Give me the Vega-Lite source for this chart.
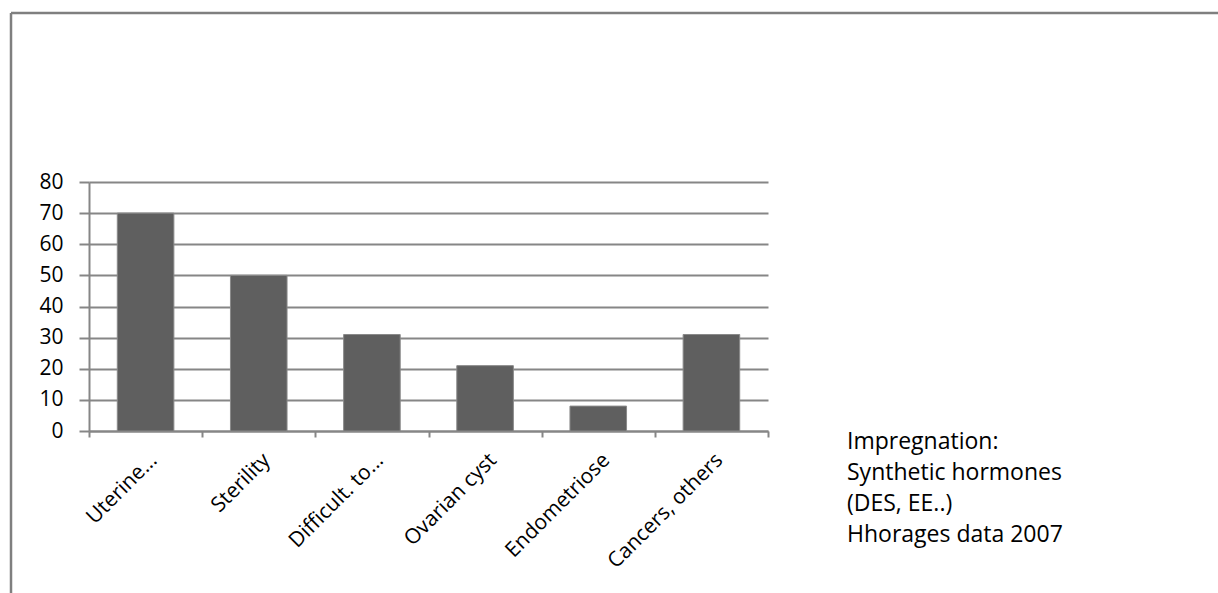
{
  "$schema": "https://vega.github.io/schema/vega-lite/v6.json",
  "width": 679,
  "height": 249,
  "autosize": "none",
  "padding": {"left": 89, "top": 182, "right": 450, "bottom": 162},
  "background": "white",
  "config": {"view": {"stroke": null}, "font": "Open Sans"},
  "datasets": {
    "bars": [
      {"cause": "Uterine...", "value": 70},
      {"cause": "Sterility", "value": 50},
      {"cause": "Difficult. to...", "value": 31},
      {"cause": "Ovarian cyst", "value": 21},
      {"cause": "Endometriose", "value": 8},
      {"cause": "Cancers, others", "value": 31}
    ],
    "note": [
      {"note": ["Impregnation:", "Synthetic hormones", "(DES, EE..)", "Hhorages data 2007"]}
    ],
    "frame": [{"f": 1}]
  },
  "layer": [
    {
      "data": {"name": "bars"},
      "mark": {"type": "bar", "color": "#5f5f5f", "stroke": "#8a8a8a", "strokeWidth": 1, "width": {"band": 0.5}},
      "encoding": {
        "x": {
          "field": "cause", "type": "nominal", "sort": null,
          "scale": {"paddingInner": 0, "paddingOuter": 0},
          "axis": {
            "title": null, "labelAngle": -45, "labelAlign": "right", "labelBaseline": "top",
            "labelFontSize": 21, "labelColor": "#000000", "labelPadding": 12,
            "tickBand": "extent", "tickSize": 6, "tickWidth": 2, "tickColor": "#868686",
            "domainColor": "#868686", "domainWidth": 2, "grid": false
          }
        },
        "y": {
          "field": "value", "type": "quantitative",
          "scale": {"domain": [0, 80], "nice": false},
          "axis": {
            "title": null, "values": [0, 10, 20, 30, 40, 50, 60, 70, 80],
            "labelFontSize": 21, "labelColor": "#000000", "labelPadding": 16,
            "tickSize": 10, "tickWidth": 2, "tickColor": "#868686",
            "domainColor": "#868686", "domainWidth": 2,
            "grid": true, "gridColor": "#868686", "gridWidth": 2
          }
        }
      }
    },
    {
      "data": {"name": "note"},
      "mark": {"type": "text", "align": "left", "baseline": "top", "fontSize": 23, "lineHeight": 31, "color": "#000000"},
      "encoding": {
        "text": {"field": "note"},
        "x": {"value": 758},
        "y": {"value": 249}
      }
    },
    {
      "data": {"name": "frame"},
      "mark": {"type": "rule", "color": "#7f7f7f", "strokeWidth": 2.5},
      "encoding": {
        "x": {"value": -78},
        "x2": {"value": 1140},
        "y": {"value": -169}
      }
    },
    {
      "data": {"name": "frame"},
      "mark": {"type": "rule", "color": "#7f7f7f", "strokeWidth": 2.5},
      "encoding": {
        "x": {"value": -78},
        "y": {"value": -169},
        "y2": {"value": 420}
      }
    }
  ]
}
